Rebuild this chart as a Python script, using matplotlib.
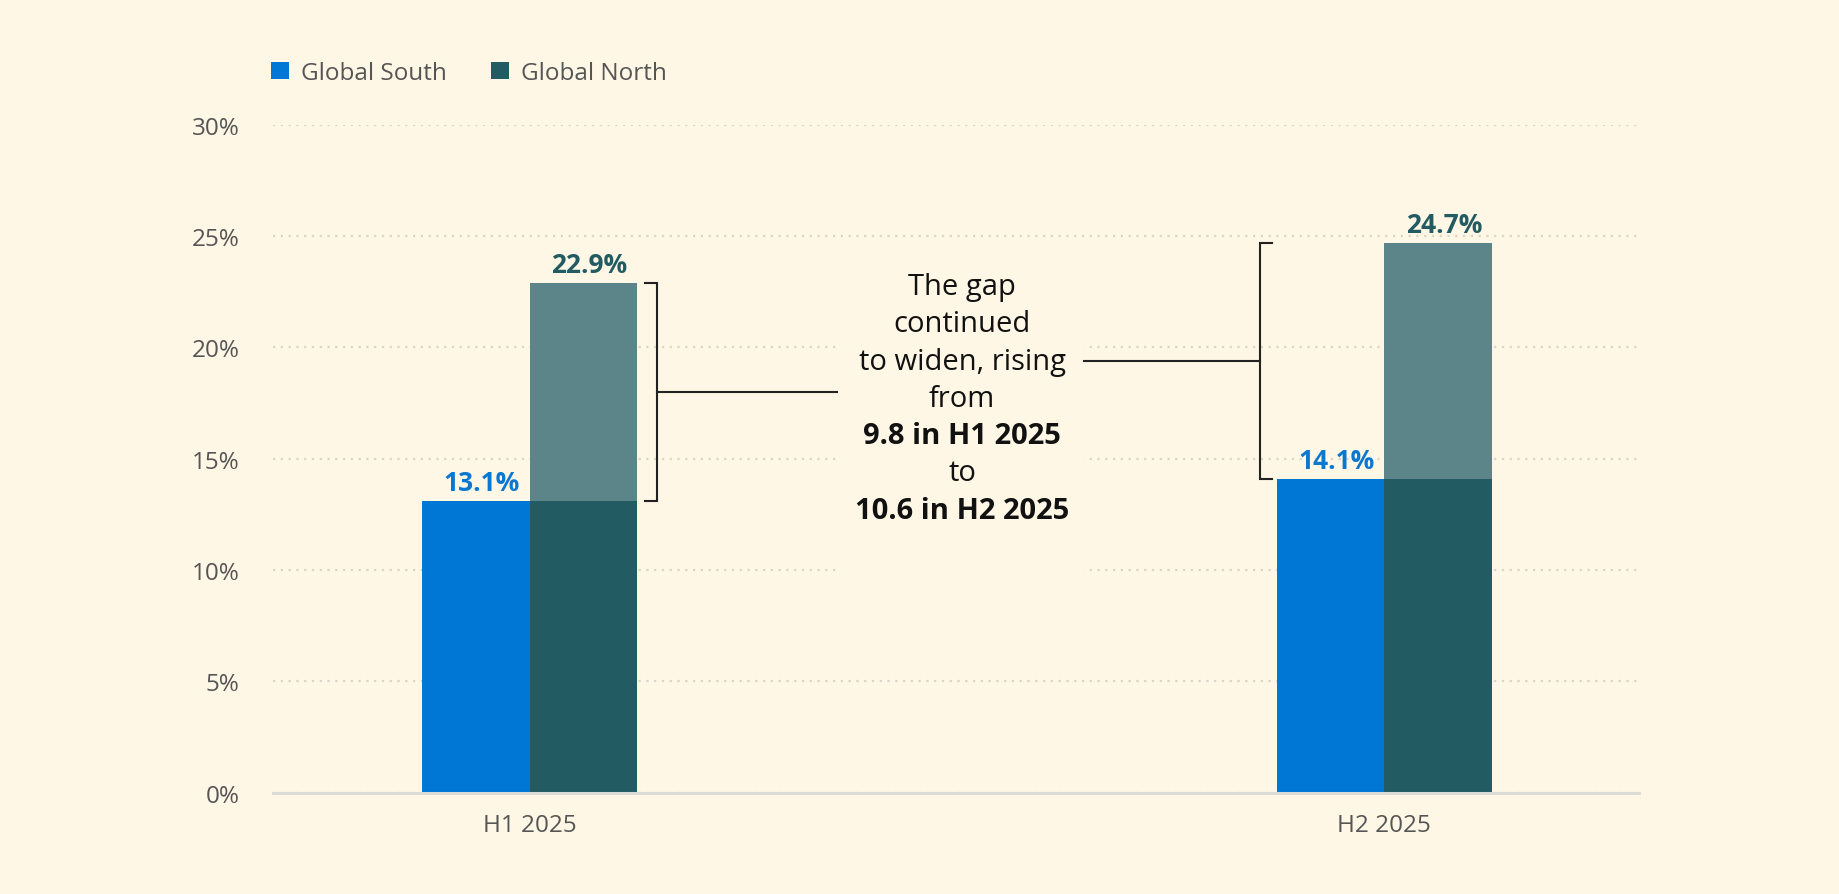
import matplotlib
matplotlib.use("Agg")
import matplotlib.pyplot as plt
from matplotlib.patches import Rectangle, Patch
import numpy as np

# ---- data ----
categories = ["H1 2025", "H2 2025"]
global_south = [13.1, 14.1]
global_north = [22.9, 24.7]
series_names = ["Global South", "Global North"]
y_ticks = [0, 5, 10, 15, 20, 25, 30]
note_lines = ["The gap", "continued", "to widen, rising", "from",
              "9.8 in H1 2025", "to", "10.6 in H2 2025"]
note_bold = [False, False, False, False, True, False, True]

# ---- style ----
BG = "#FEF7E5"
C_SOUTH = "#0077D4"
C_NORTH = "#225B62"
C_GAP = "#5B8589"
C_LBL_S = "#0A78D0"
C_GRID = "#D8D4CA"
C_TXT = "#555555"
plt.rcParams["font.family"] = ["Open Sans", "DejaVu Sans"]

fig = plt.figure(figsize=(18.4, 8.95), dpi=100, facecolor=BG)
ax = fig.add_axes([0.1484, 0.1134, 0.7424, 0.7461], facecolor=BG)

x = np.arange(len(categories))
w = 0.126
south = np.array(global_south)
north = np.array(global_north)

ax.bar(x - w / 2, south, width=w, color=C_SOUTH, zorder=3)
ax.bar(x + w / 2, south, width=w, color=C_NORTH, zorder=3)
ax.bar(x + w / 2, north - south, bottom=south, width=w, color=C_GAP, zorder=3)

# value labels
for xi, s, n in zip(x, south, north):
    ax.annotate(f"{s:.1f}%", xy=(xi - w / 2, s), xytext=(4, 8), textcoords="offset points",
                ha="center", va="baseline", fontsize=19, fontweight="bold", color=C_LBL_S, zorder=5)
    ax.annotate(f"{n:.1f}%", xy=(xi + w / 2, n), xytext=(4, 8), textcoords="offset points",
                ha="center", va="baseline", fontsize=19, fontweight="bold", color=C_NORTH, zorder=5)

ax.set_xlim(-0.3, 1.298)
ax.set_ylim(0, 30)
ax.set_yticks(y_ticks)
ax.set_yticklabels([f"{t}%" for t in y_ticks])
ax.set_xticks(x)
ax.set_xticklabels(categories)
ax.tick_params(axis="y", length=0, pad=24, labelsize=17.5, labelcolor=C_TXT)
ax.tick_params(axis="x", length=0, pad=15, labelsize=17.5, labelcolor=C_TXT)

ax.set_axisbelow(True)
ax.yaxis.grid(True, color=C_GRID, linestyle=(0, (1, 2.5)), linewidth=1.6)
ax.xaxis.grid(False)
for sp in ["top", "right", "left"]:
    ax.spines[sp].set_visible(False)
ax.spines["bottom"].set_color("#DCDAD5")
ax.spines["bottom"].set_linewidth(2.2)
ax.spines["bottom"].set_zorder(4)

# annotation box hiding gridlines
box_l, box_r = 0.360, 0.649
ax.add_patch(Rectangle((box_l, 7.8), box_r - box_l, 15.6, facecolor=BG, edgecolor="none", zorder=2))

# brackets
lc = "#222222"
# left bracket (H1)
bx0 = x[0] + w + 0.0094
bx1 = x[0] + w + 0.0234
ax.plot([bx0, bx1, bx1, bx0], [north[0], north[0], south[0], south[0]], color=lc, lw=1.5, zorder=3,
        solid_joinstyle="miter")
mid0 = (north[0] + south[0]) / 2
ax.plot([bx1, box_l], [mid0, mid0], color=lc, lw=1.5, zorder=3)
# right bracket (H2)
cx0 = x[1] - w - 0.005
cx1 = x[1] - w - 0.020
ax.plot([cx0, cx1, cx1, cx0], [north[1], north[1], south[1], south[1]], color=lc, lw=1.5, zorder=3,
        solid_joinstyle="miter")
mid1 = (north[1] + south[1]) / 2
ax.plot([box_r, cx1], [mid1, mid1], color=lc, lw=1.5, zorder=3)

# annotation text
tx, ty = 0.506, 17.37
LS = 26.8
for i, (line, b) in enumerate(zip(note_lines, note_bold)):
    ax.annotate(line, xy=(tx, ty), xytext=(0, (3 - i) * LS), textcoords="offset points",
                ha="center", va="baseline", fontsize=21, color="#111111",
                fontweight="bold" if b else "normal", zorder=5)

# legend
handles = [Patch(facecolor=C_SOUTH, edgecolor="none"), Patch(facecolor=C_NORTH, edgecolor="none")]
leg = fig.legend(handles, series_names, loc="center left", bbox_to_anchor=(271 / 1840, 1 - 74 / 895),
                 ncol=2, frameon=False, fontsize=17.5, handlelength=0.75, handleheight=0.75,
                 handletextpad=0.5, columnspacing=1.8, borderpad=0, borderaxespad=0)
for t in leg.get_texts():
    t.set_color(C_TXT)

fig.savefig("out.png", dpi=100, facecolor=BG)
